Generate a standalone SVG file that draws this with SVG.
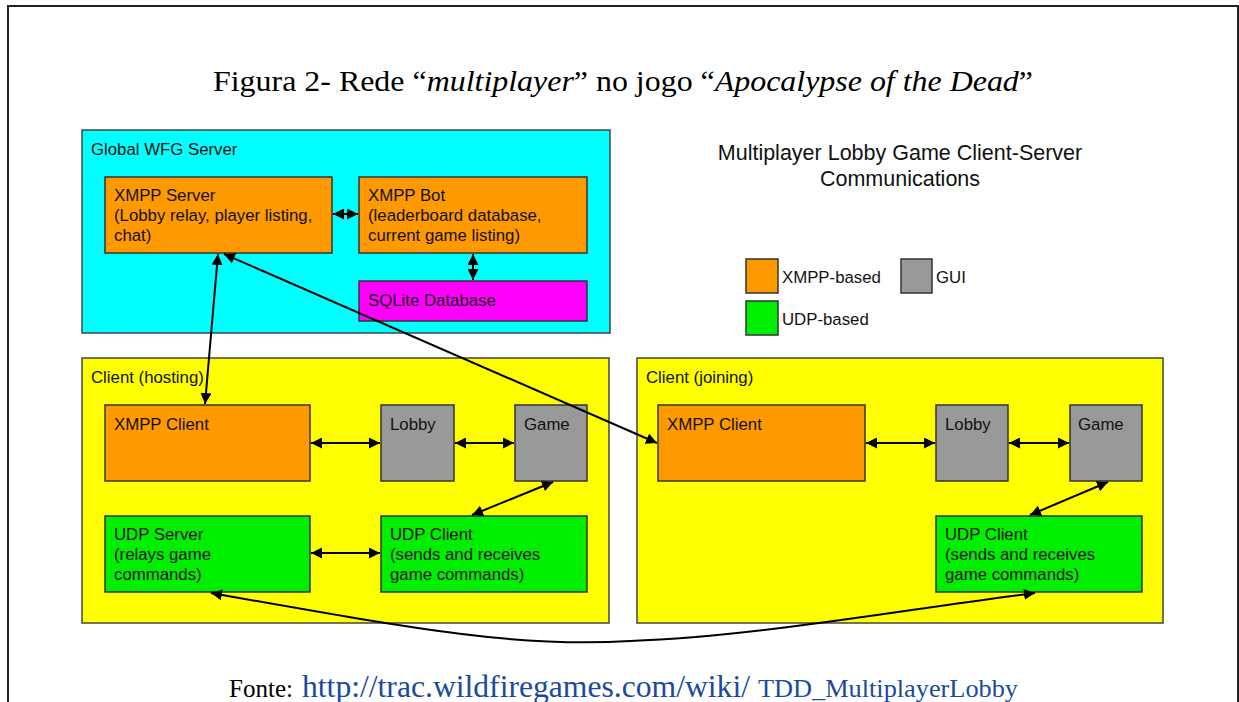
<svg xmlns="http://www.w3.org/2000/svg" width="1239" height="702" viewBox="0 0 1239 702">
<style>
  .box{stroke:#333;stroke-width:1.5}
  .grp{stroke:#444;stroke-width:1.5}
  .t{font-family:"Liberation Sans",Arial,sans-serif;font-size:16.8px;fill:#111}
  .c{fill:none;stroke:#000;stroke-width:2}
  .orange{fill:#ff9900}
  .gray{fill:#999999}
  .green{fill:#00ee00}
  .cyan{fill:#00ffff}
  .yellow{fill:#ffff00}
  .magenta{fill:#ff00ff}
  .serif{font-family:"Liberation Serif","Times New Roman",serif}
</style>
<defs>
  <marker id="ah" viewBox="0 0 10 10" refX="10" refY="5" markerWidth="5.5" markerHeight="5.5" orient="auto-start-reverse" markerUnits="strokeWidth">
    <path d="M0,0 L10,5 L0,10 z" fill="#000"/>
  </marker>
</defs>
<rect x="0" y="0" width="1239" height="702" fill="#fff"/>
<path d="M8,702 V6 H1238 V702" fill="none" stroke="#222" stroke-width="2"/>
<text class="serif" x="623" y="91" text-anchor="middle" font-size="29" fill="#000" textLength="820" lengthAdjust="spacingAndGlyphs">Figura 2- Rede “<tspan font-style="italic">multiplayer</tspan>” no jogo “<tspan font-style="italic">Apocalypse of the Dead</tspan>”</text>

<g id="global-server">
  <rect class="grp cyan" x="82" y="130" width="528" height="203"/>
  <text class="t" x="91" y="155">Global WFG Server</text>
</g>
<g id="client-hosting">
  <rect class="grp yellow" x="82" y="358" width="527" height="265"/>
  <text class="t" x="91" y="383">Client (hosting)</text>
</g>
<g id="client-joining">
  <rect class="grp yellow" x="637" y="358" width="526" height="265"/>
  <text class="t" x="646" y="383">Client (joining)</text>
</g>

<g id="xmpp-server">
  <rect class="box orange" x="105" y="177" width="227" height="76"/>
  <text class="t" x="114" y="201">XMPP Server</text>
  <text class="t" x="114" y="221">(Lobby relay, player listing,</text>
  <text class="t" x="114" y="241">chat)</text>
</g>
<g id="xmpp-bot">
  <rect class="box orange" x="359" y="177" width="228" height="76"/>
  <text class="t" x="368" y="201">XMPP Bot</text>
  <text class="t" x="368" y="221">(leaderboard database,</text>
  <text class="t" x="368" y="241">current game listing)</text>
</g>
<g id="sqlite">
  <rect class="box magenta" x="359" y="281" width="228" height="40"/>
  <text class="t" x="368" y="306">SQLite Database</text>
</g>

<g id="h-xmpp-client">
  <rect class="box orange" x="105" y="405" width="205" height="76"/>
  <text class="t" x="114" y="430">XMPP Client</text>
</g>
<g id="h-lobby">
  <rect class="box gray" x="381" y="405" width="73" height="76"/>
  <text class="t" x="390" y="430">Lobby</text>
</g>
<g id="h-game">
  <rect class="box gray" x="515" y="405" width="72" height="76"/>
  <text class="t" x="524" y="430">Game</text>
</g>
<g id="h-udp-server">
  <rect class="box green" x="105" y="516" width="205" height="76"/>
  <text class="t" x="114" y="540">UDP Server</text>
  <text class="t" x="114" y="560">(relays game</text>
  <text class="t" x="114" y="580">commands)</text>
</g>
<g id="h-udp-client">
  <rect class="box green" x="381" y="516" width="206" height="76"/>
  <text class="t" x="390" y="540">UDP Client</text>
  <text class="t" x="390" y="560">(sends and receives</text>
  <text class="t" x="390" y="580">game commands)</text>
</g>

<g id="j-xmpp-client">
  <rect class="box orange" x="658" y="405" width="207" height="76"/>
  <text class="t" x="667" y="430">XMPP Client</text>
</g>
<g id="j-lobby">
  <rect class="box gray" x="936" y="405" width="72" height="76"/>
  <text class="t" x="945" y="430">Lobby</text>
</g>
<g id="j-game">
  <rect class="box gray" x="1070" y="405" width="72" height="76"/>
  <text class="t" x="1078" y="430">Game</text>
</g>
<g id="j-udp-client">
  <rect class="box green" x="936" y="516" width="206" height="76"/>
  <text class="t" x="945" y="540">UDP Client</text>
  <text class="t" x="945" y="560">(sends and receives</text>
  <text class="t" x="945" y="580">game commands)</text>
</g>

<g id="title-block">
  <text x="900" y="160" text-anchor="middle" font-family="'Liberation Sans',Arial,sans-serif" font-size="21.5" fill="#111">Multiplayer Lobby Game Client-Server</text>
  <text x="900" y="186" text-anchor="middle" font-family="'Liberation Sans',Arial,sans-serif" font-size="21.5" fill="#111">Communications</text>
</g>
<g id="legend">
  <rect class="box orange" x="746" y="259" width="32" height="34"/>
  <text class="t" x="782" y="283">XMPP-based</text>
  <rect class="box gray" x="901" y="259" width="31" height="34"/>
  <text class="t" x="936" y="283">GUI</text>
  <rect class="box green" x="746" y="301" width="32" height="34"/>
  <text class="t" x="782" y="325">UDP-based</text>
</g>

<g id="connectors">
  <line class="c" x1="333" y1="214" x2="358" y2="214" marker-start="url(#ah)" marker-end="url(#ah)"/>
  <line class="c" x1="473" y1="254" x2="473" y2="280" marker-start="url(#ah)" marker-end="url(#ah)"/>
  <line class="c" x1="218" y1="254" x2="205" y2="404" marker-start="url(#ah)" marker-end="url(#ah)"/>
  <line class="c" x1="224" y1="254" x2="657" y2="443" marker-start="url(#ah)" marker-end="url(#ah)"/>
  <line class="c" x1="311" y1="443" x2="380" y2="443" marker-start="url(#ah)" marker-end="url(#ah)"/>
  <line class="c" x1="455" y1="443" x2="514" y2="443" marker-start="url(#ah)" marker-end="url(#ah)"/>
  <line class="c" x1="553" y1="482" x2="472" y2="515" marker-start="url(#ah)" marker-end="url(#ah)"/>
  <line class="c" x1="311" y1="553" x2="380" y2="553" marker-start="url(#ah)" marker-end="url(#ah)"/>
  <line class="c" x1="866" y1="443" x2="935" y2="443" marker-start="url(#ah)" marker-end="url(#ah)"/>
  <line class="c" x1="1009" y1="443" x2="1069" y2="443" marker-start="url(#ah)" marker-end="url(#ah)"/>
  <line class="c" x1="1108" y1="482" x2="1030" y2="515" marker-start="url(#ah)" marker-end="url(#ah)"/>
  <path class="c" d="M211,593 C420,630 520,648 630,641 C760,636 900,610 1035,593" marker-start="url(#ah)" marker-end="url(#ah)"/>
</g>

<g id="source">
  <text class="serif" x="229" y="697" font-size="26" fill="#000" textLength="64" lengthAdjust="spacingAndGlyphs">Fonte:</text>
  <text class="serif" x="302" y="697" font-size="31" fill="#1a4aa0" textLength="448" lengthAdjust="spacingAndGlyphs">http://trac.wildfiregames.com/wiki/</text>
  <text class="serif" x="758" y="697" font-size="25" fill="#1a4aa0" textLength="260" lengthAdjust="spacingAndGlyphs">TDD_MultiplayerLobby</text>
</g>
</svg>
